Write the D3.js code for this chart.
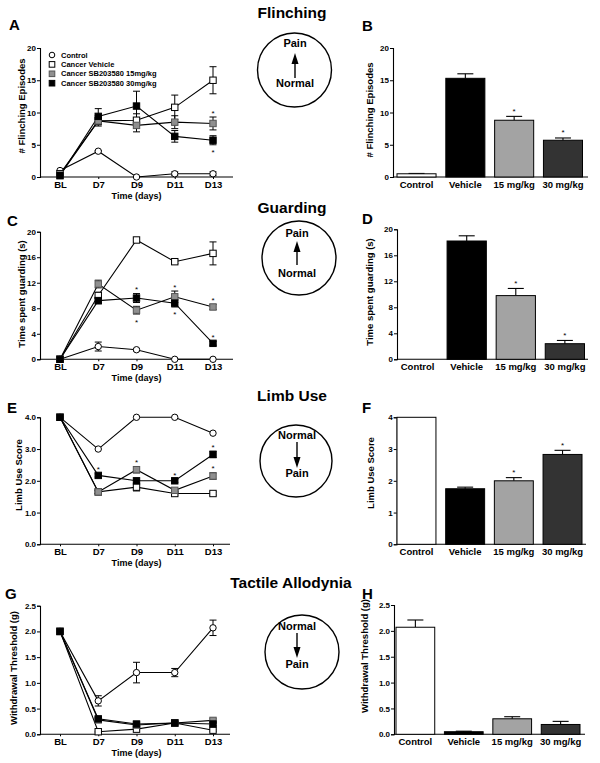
<!DOCTYPE html>
<html><head><meta charset="utf-8">
<script src="https://cdn.jsdelivr.net/npm/d3@7"></script>
<style>
body{margin:0;background:#fff}
text{font-family:"Liberation Sans",Arial,sans-serif;font-weight:bold;fill:#000}
</style>
</head><body><svg id="c" width="600" height="763"></svg>
<script>
// ---------------- DATA ----------------
const days = ["BL", "D7", "D9", "D11", "D13"];
const groups = ["Control", "Cancer Vehicle", "Cancer SB203580 15mg/kg", "Cancer SB203580 30mg/kg"];
const barCats = ["Control", "Vehicle", "15 mg/kg", "30 mg/kg"];

// Flinching (# episodes)
const flinchControl = [1.0, 4.0, 0.0, 0.5, 0.5];
const flinchControlErr = [0, 0.1, 0, 0.3, 0.3];
const flinchVehicle = [0.5, 8.7, 8.8, 10.8, 15.0];
const flinchVehicleErr = [0, 0.8, 1.0, 1.9, 2.1];
const flinch15 = [0.3, 8.7, 8.0, 8.5, 8.3];
const flinch15Err = [0, 0.6, 1.0, 1.0, 1.0];
const flinch30 = [0.2, 9.4, 11.0, 6.3, 5.7];
const flinch30Err = [0, 1.2, 2.3, 0.9, 0.7];
const flinchBars = [0.5, 15.3, 8.8, 5.7];
const flinchBarsErr = [0.05, 0.7, 0.6, 0.35];
const flinchTicks = [0, 5, 10, 15, 20];

// Guarding (s)
const guardControl = [0, 2.0, 1.5, 0, 0];
const guardControlErr = [0, 0.7, 0.2, 0, 0];
const guardVehicle = [0, 10.0, 18.7, 15.3, 16.6];
const guardVehicleErr = [0, 0.5, 0.3, 0.3, 1.8];
const guard15 = [0, 11.8, 7.7, 9.8, 8.2];
const guard15Err = [0, 0.6, 0.6, 0.9, 0.4];
const guard30 = [0, 9.2, 9.6, 8.8, 2.5];
const guard30Err = [0, 0.5, 0.7, 0.6, 0.3];
const guardBars = [0, 18.2, 9.8, 2.4];
const guardBarsErr = [0, 0.8, 1.1, 0.5];
const guardTicks = [0, 4, 8, 12, 16, 20];

// Limb use score
const limbControl = [4.0, 3.0, 4.0, 4.0, 3.5];
const limbControlErr = [0, 0, 0, 0, 0];
const limbVehicle = [4.0, 1.65, 1.8, 1.6, 1.6];
const limbVehicleErr = [0, 0.05, 0.12, 0.05, 0.05];
const limb15 = [4.0, 1.65, 2.35, 1.7, 2.15];
const limb15Err = [0, 0.05, 0.1, 0.05, 0.1];
const limb30 = [4.0, 2.17, 2.0, 2.0, 2.83];
const limb30Err = [0, 0.05, 0.05, 0.05, 0.1];
const limbBars = [4.0, 1.75, 2.0, 2.83];
const limbBarsErr = [0, 0.05, 0.1, 0.13];
const limbTicks = [0, 1, 2, 3, 4];

// Tactile allodynia (g)
const tactControl = [2.0, 0.65, 1.2, 1.2, 2.07];
const tactControlErr = [0, 0.1, 0.2, 0.08, 0.15];
const tactVehicle = [2.0, 0.05, 0.1, 0.22, 0.08];
const tactVehicleErr = [0, 0.01, 0.02, 0.03, 0.02];
const tact15 = [2.0, 0.28, 0.18, 0.22, 0.27];
const tact15Err = [0, 0.03, 0.02, 0.03, 0.03];
const tact30 = [2.0, 0.3, 0.2, 0.22, 0.2];
const tact30Err = [0, 0.03, 0.02, 0.03, 0.03];
const tactBars = [2.07, 0.05, 0.3, 0.19];
const tactBarsErr = [0.14, 0.01, 0.04, 0.06];
const tactTicks = [0, 0.5, 1.0, 1.5, 2.0, 2.5];

// significance marks: group index, day index, side
const flinchStars = [[2, 4, "up"], [3, 4, "down"]];
const guardStars = [[3, 2, "up"], [2, 2, "down"], [2, 3, "up"], [3, 3, "down"], [2, 4, "up"], [3, 4, "up"]];
const limbStars = [[3, 1, "up"], [2, 2, "up"], [3, 3, "up"], [3, 4, "up"], [2, 4, "up"]];
const tactStars = [];
const flinchBarStars = [2, 3];
const guardBarStars = [2, 3];
const limbBarStars = [2, 3];
const tactBarStars = [];

// ---------------- STYLE ----------------
const markerStyle = [
  {shape: "circle", fill: "#fff", stroke: "#000"},
  {shape: "square", fill: "#fff", stroke: "#000"},
  {shape: "square", fill: "#8f8f8f", stroke: "#555"},
  {shape: "square", fill: "#000", stroke: "#000"}
];
const barFills = ["#fff", "#000", "#a3a3a3", "#333"];

const svg = d3.select("#c");

function star(g, x, yc) {
  g.append("text").attr("x", x).attr("y", yc + 4.5).attr("text-anchor", "middle")
    .style("font-size", "8px").style("font-weight", "normal").text("*");
}

function lineChart(o) {
  const g = svg.append("g");
  const x = d3.scalePoint().domain(days).range([60, 213]);
  const y = d3.scaleLinear().domain([0, o.ticks[o.ticks.length - 1]]).range([o.y0, o.y1]);
  const ya = g.append("g").attr("transform", "translate(40,0)")
    .call(d3.axisLeft(y).tickValues(o.ticks).tickSize(3).tickPadding(1).tickFormat(o.fmt));
  ya.selectAll("text").style("font-size", "8px").style("font-family", null);
  ya.select(".domain").attr("stroke-width", 1.1);
  g.append("line").attr("x1", 40).attr("x2", o.xEnd).attr("y1", y(0)).attr("y2", y(0))
    .attr("stroke", "#000").attr("stroke-width", 1.1);
  const xa = g.append("g").attr("transform", `translate(0,${y(0)})`)
    .call(d3.axisBottom(x).tickSize(2).tickPadding(2));
  xa.select(".domain").remove();
  xa.selectAll("text").style("font-size", "9.5px").style("font-family", null);
  g.append("text").attr("x", x("D9")).attr("y", y(0) + 22).attr("text-anchor", "middle")
    .style("font-size", "9px").text("Time (days)");
  g.append("text").attr("transform", `translate(${o.labelX},${o.labelY}) rotate(-90)`)
    .attr("text-anchor", "middle").style("font-size", "9.5px").text(o.ylabel);
  g.append("text").attr("x", o.letterX).attr("y", o.letterY).style("font-size", "15px").text(o.letter);

  const line = d3.line().x((d, i) => x(days[i])).y(d => y(d));
  o.series.forEach(s => {
    g.append("path").attr("d", line(s.v)).attr("fill", "none").attr("stroke", "#000").attr("stroke-width", 1.1);
  });
  o.series.forEach(s => {
    s.v.forEach((v, i) => {
      const e = s.e[i];
      if (!e) return;
      const cx = x(days[i]);
      g.append("line").attr("x1", cx).attr("x2", cx).attr("y1", y(v - e)).attr("y2", y(v + e)).attr("stroke", "#000");
      [v - e, v + e].forEach(t => g.append("line").attr("x1", cx - 3.5).attr("x2", cx + 3.5)
        .attr("y1", y(t)).attr("y2", y(t)).attr("stroke", "#000"));
    });
  });
  o.series.forEach((s, gi) => {
    const m = markerStyle[gi];
    s.v.forEach((v, i) => {
      const cx = x(days[i]), cy = y(v);
      if (m.shape === "circle") {
        g.append("circle").attr("cx", cx).attr("cy", cy).attr("r", 3.2)
          .attr("fill", m.fill).attr("stroke", m.stroke).attr("stroke-width", 1);
      } else {
        g.append("rect").attr("x", cx - 3.2).attr("y", cy - 3.2).attr("width", 6.4).attr("height", 6.4)
          .attr("fill", m.fill).attr("stroke", m.stroke).attr("stroke-width", 1);
      }
    });
  });
  o.stars.forEach(([gi, di, side]) => {
    const s = o.series[gi];
    const v = s.v[di], e = s.e[di];
    const cx = x(days[di]);
    if (side === "up") star(g, cx, y(v + e) - 6);
    else star(g, cx, y(v - e) + 6);
  });
  return g;
}

function barChart(o) {
  const g = svg.append("g");
  const x = d3.scaleBand().domain(barCats).range([o.b0, o.b1]).paddingInner(0.2).paddingOuter(0);
  const y = d3.scaleLinear().domain([0, o.ticks[o.ticks.length - 1]]).range([o.y0, o.y1]);
  const ya = g.append("g").attr("transform", `translate(${o.ax},0)`)
    .call(d3.axisLeft(y).tickValues(o.ticks).tickSize(3).tickPadding(1).tickFormat(o.fmt));
  ya.selectAll("text").style("font-size", "8px").style("font-family", null);
  ya.select(".domain").attr("stroke-width", 1.1);
  g.append("line").attr("x1", o.ax).attr("x2", o.xEnd).attr("y1", y(0)).attr("y2", y(0))
    .attr("stroke", "#000").attr("stroke-width", 1.1);
  barCats.forEach(c => {
    g.append("text").attr("x", x(c) + x.bandwidth() / 2).attr("y", y(0) + 11).attr("text-anchor", "middle")
      .style("font-size", "9.5px").text(c);
  });
  g.append("text").attr("transform", `translate(${o.labelX},${o.labelY}) rotate(-90)`)
    .attr("text-anchor", "middle").style("font-size", "9.5px").text(o.ylabel);
  g.append("text").attr("x", o.letterX).attr("y", o.letterY).style("font-size", "15px").text(o.letter);
  o.values.forEach((v, i) => {
    const c = barCats[i];
    const bx = x(c), bw = x.bandwidth();
    const e = o.errs[i];
    if (e) {
      const cx = bx + bw / 2;
      g.append("line").attr("x1", cx).attr("x2", cx).attr("y1", y(v)).attr("y2", y(v + e)).attr("stroke", "#000").attr("stroke-width", 1.1);
      g.append("line").attr("x1", cx - 8).attr("x2", cx + 8).attr("y1", y(v + e)).attr("y2", y(v + e)).attr("stroke", "#000").attr("stroke-width", 1.1);
    }
    if (v > 0) {
      g.append("rect").attr("x", bx).attr("y", y(v)).attr("width", bw).attr("height", y(0) - y(v))
        .attr("fill", barFills[i]).attr("stroke", "#000").attr("stroke-width", 1);
    }
  });
  o.stars.forEach(i => {
    const c = barCats[i];
    star(g, x(c) + x.bandwidth() / 2, y(o.values[i] + o.errs[i]) - 7);
  });
}

function diagram(o) {
  const g = svg.append("g");
  g.append("text").attr("x", o.tx).attr("y", o.ty).attr("text-anchor", "middle").style("font-size", "15.5px").text(o.title);
  g.append("circle").attr("cx", o.cx).attr("cy", o.cy).attr("r", o.r).attr("fill", "none")
    .attr("stroke", "#000").attr("stroke-width", 1.4);
  g.append("text").attr("x", o.ax).attr("y", o.topY).attr("text-anchor", "middle").style("font-size", "11px").text(o.top);
  g.append("text").attr("x", o.ax).attr("y", o.botY).attr("text-anchor", "middle").style("font-size", "11px").text(o.bottom);
  const tip = o.up ? o.a0 : o.a1, tail = o.up ? o.a1 : o.a0;
  const dir = o.up ? 1 : -1;
  g.append("line").attr("x1", o.ax).attr("x2", o.ax).attr("y1", tail).attr("y2", tip + dir * 8)
    .attr("stroke", "#000").attr("stroke-width", 1.4);
  g.append("path").attr("d", `M${o.ax},${tip} L${o.ax - 3.5},${tip + dir * 11} L${o.ax + 3.5},${tip + dir * 11} Z`).attr("fill", "#000");
}

// ---------------- PANELS ----------------
function series(v0, e0, v1, e1, v2, e2, v3, e3) {
  return [{v: v0, e: e0}, {v: v1, e: e1}, {v: v2, e: e2}, {v: v3, e: e3}];
}

// A
lineChart({letter: "A", letterX: 9, letterY: 30, y0: 177, y1: 48, xEnd: 233, ticks: flinchTicks, fmt: d3.format("d"),
  ylabel: "# Flinching Episodes", labelX: 24.5, labelY: 106,
  series: series(flinchControl, flinchControlErr, flinchVehicle, flinchVehicleErr, flinch15, flinch15Err, flinch30, flinch30Err),
  stars: flinchStars});
// legend
(function () {
  const g = svg.append("g");
  groups.forEach((name, i) => {
    const yy = 55 + i * 9.4;
    const m = markerStyle[i];
    if (m.shape === "circle") g.append("circle").attr("cx", 52).attr("cy", yy).attr("r", 2.8).attr("fill", m.fill).attr("stroke", m.stroke);
    else g.append("rect").attr("x", 49.2).attr("y", yy - 2.8).attr("width", 5.6).attr("height", 5.6).attr("fill", m.fill).attr("stroke", m.stroke);
    g.append("text").attr("x", 61).attr("y", yy + 2.6).style("font-size", "7.5px").text(name);
  });
})();

barChart({letter: "B", letterX: 362, letterY: 31, ax: 393, xEnd: 588, b0: 397, b1: 582.5, y0: 177, y1: 48,
  ticks: flinchTicks, fmt: d3.format("d"), ylabel: "# Flinching Episodes", labelX: 373, labelY: 110,
  values: flinchBars, errs: flinchBarsErr, stars: flinchBarStars});

// C
lineChart({letter: "C", letterX: 7, letterY: 226, y0: 359.3, y1: 231.7, xEnd: 233, ticks: guardTicks, fmt: d3.format("d"),
  ylabel: "Time spent guarding (s)", labelX: 24.5, labelY: 294,
  series: series(guardControl, guardControlErr, guardVehicle, guardVehicleErr, guard15, guard15Err, guard30, guard30Err),
  stars: guardStars});
barChart({letter: "D", letterX: 362, letterY: 224, ax: 397, xEnd: 588, b0: 398, b1: 584.5, y0: 359.3, y1: 229.3,
  ticks: guardTicks, fmt: d3.format("d"), ylabel: "Time spent guarding (s)", labelX: 373, labelY: 292,
  values: guardBars, errs: guardBarsErr, stars: guardBarStars});

// E
lineChart({letter: "E", letterX: 7, letterY: 413, y0: 544.3, y1: 417.3, xEnd: 230, ticks: limbTicks, fmt: d3.format(".1f"),
  ylabel: "Limb Use Score", labelX: 21.5, labelY: 475,
  series: series(limbControl, limbControlErr, limbVehicle, limbVehicleErr, limb15, limb15Err, limb30, limb30Err),
  stars: limbStars});
barChart({letter: "F", letterX: 362, letterY: 413, ax: 396.7, xEnd: 586, b0: 397, b1: 582, y0: 544.3, y1: 417.3,
  ticks: limbTicks, fmt: d3.format("d"), ylabel: "Limb Use Score", labelX: 374, labelY: 473,
  values: limbBars, errs: limbBarsErr, stars: limbBarStars});

// G
lineChart({letter: "G", letterX: 5, letterY: 599, y0: 734.3, y1: 605.7, xEnd: 230, ticks: tactTicks, fmt: d3.format(".1f"),
  ylabel: "Withdrawal Threshold (g)", labelX: 16.5, labelY: 668,
  series: series(tactControl, tactControlErr, tactVehicle, tactVehicleErr, tact15, tact15Err, tact30, tact30Err),
  stars: tactStars});
barChart({letter: "H", letterX: 362, letterY: 599, ax: 394, xEnd: 585, b0: 396, b1: 580, y0: 734.3, y1: 605,
  ticks: tactTicks, fmt: d3.format(".1f"), ylabel: "Withdrawal Threshold (g)", labelX: 368, labelY: 656,
  values: tactBars, errs: tactBarsErr, stars: tactBarStars});

// diagrams
diagram({title: "Flinching", tx: 292, ty: 18, cx: 294.5, cy: 70, r: 37, ax: 295, top: "Pain", bottom: "Normal",
  topY: 47, botY: 87, up: true, a0: 53, a1: 78});
diagram({title: "Guarding", tx: 292, ty: 213, cx: 299, cy: 258, r: 37, ax: 297, top: "Pain", bottom: "Normal",
  topY: 237, botY: 277, up: true, a0: 241, a1: 265});
diagram({title: "Limb Use", tx: 292, ty: 401, cx: 296, cy: 461, r: 36, ax: 297, top: "Normal", bottom: "Pain",
  topY: 439, botY: 477, up: false, a0: 442, a1: 468});
diagram({title: "Tactile Allodynia", tx: 291, ty: 588, cx: 302, cy: 652, r: 37, ax: 297, top: "Normal", bottom: "Pain",
  topY: 630, botY: 668, up: false, a0: 633, a1: 658});
</script>
</body></html>
